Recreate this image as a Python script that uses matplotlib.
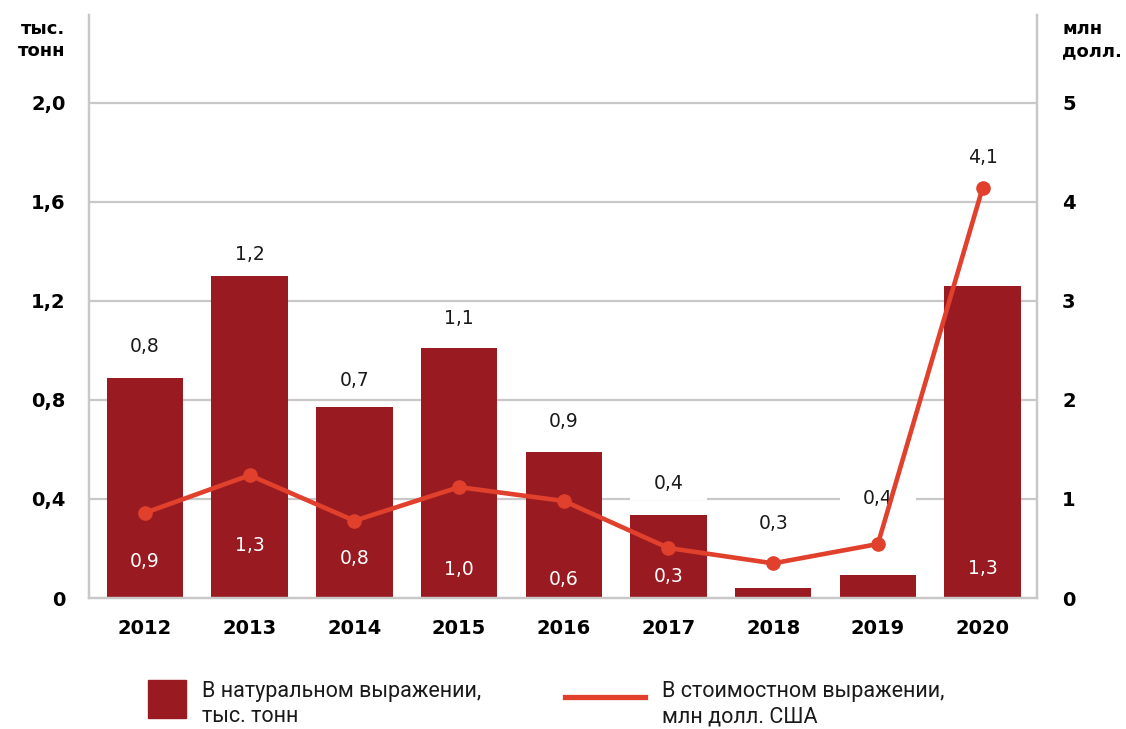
import matplotlib
matplotlib.use("Agg")
import matplotlib.pyplot as plt
from matplotlib.patches import Rectangle
from matplotlib.lines import Line2D
import numpy as np

# ---------------- data ----------------
years = ["2012", "2013", "2014", "2015", "2016", "2017", "2018", "2019", "2020"]
volume_kt = [0.89, 1.30, 0.77, 1.01, 0.59, 0.335, 0.042, 0.093, 1.26]      # тыс. тонн (left axis)
value_musd = [0.86, 1.24, 0.78, 1.12, 0.98, 0.505, 0.35, 0.545, 4.14]      # млн долл. (right axis)
volume_labels = ["0,9", "1,3", "0,8", "1,0", "0,6", "0,3", "", "", "1,3"]
value_labels = ["0,8", "1,2", "0,7", "1,1", "0,9", "0,4", "0,3", "0,4", "4,1"]
left_ticks = [0, 0.4, 0.8, 1.2, 1.6, 2.0]
left_ticklabels = ["0", "0,4", "0,8", "1,2", "1,6", "2,0"]
right_ticks = [0, 1, 2, 3, 4, 5]
right_ticklabels = ["0", "1", "2", "3", "4", "5"]
legend_bar = "В натуральном выражении,\nтыс. тонн"
legend_line = "В стоимостном выражении,\nмлн долл. США"

# ---------------- layout (label heights in left-axis units) ----------------
top_label_pos = [1.014, 1.386, 0.877, 1.131, 0.711, 0.461, 0.299, 0.400, 1.778]
inner_label_pos = [0.149, 0.214, 0.158, 0.117, 0.073, 0.085, None, None, 0.121]

BAR = "#991b21"
LINE = "#e0402c"
GRID = "#c8c8c8"
FONT = "DejaVu Sans"

W, H = 1126, 729
fig = plt.figure(figsize=(W / 100, H / 100), dpi=100)
plt.rcParams["font.family"] = [FONT]

ax = fig.add_axes([89 / W, 1 - 598 / H, (1037 - 89) / W, (598 - 15) / H])
ax2 = ax.twinx()

x = np.arange(len(years))
bw = 0.73
ax.set_xlim(-0.535, len(years) - 1 + 0.52)
ax.set_ylim(0, 2.355)
ax2.set_ylim(0, 2.355 * 2.5)

# grid lines
for t in left_ticks[1:]:
    ax.axhline(t, color=GRID, lw=1.6, zorder=0)

ax.bar(x, volume_kt, width=bw, color=BAR, zorder=2)

# white boxes behind top labels (bar-wide), then labels
px_per_unit = (598 - 15) / 2.355
for xi, yl, lab in zip(x, top_label_pos, value_labels):
    lo = yl - 16 / px_per_unit
    hi = yl + 15 / px_per_unit
    ax.bar(xi, hi - lo, bottom=lo, width=bw, color="white", linewidth=0, zorder=1.5)
    ax.text(xi, yl, lab, ha="center", va="center", fontsize=13.5, color="#1a1a1a", zorder=3)

for xi, yl, lab in zip(x, inner_label_pos, volume_labels):
    if yl is not None and lab:
        ax.text(xi, yl, lab, ha="center", va="center", fontsize=13.5, color="white", zorder=3)

ax2.plot(x, value_musd, color=LINE, lw=3.3, marker="o", ms=9.5, zorder=5)

# axes styling
for a in (ax, ax2):
    for s in a.spines.values():
        s.set_color(GRID)
        s.set_linewidth(1.6)
    a.spines["top"].set_visible(False)
    a.tick_params(length=0)

ax.set_yticks(left_ticks)
ax.set_yticklabels(left_ticklabels, fontsize=14, fontweight="bold")
ax.tick_params(axis="y", pad=17)
ax2.set_yticks(right_ticks)
ax2.set_yticklabels(right_ticklabels, fontsize=14, fontweight="bold")
ax2.tick_params(axis="y", pad=18)
ax.set_xticks(x)
ax.set_xticklabels(years, fontsize=14, fontweight="bold")
ax.tick_params(axis="x", pad=15)

# unit labels
fig.text(65 / W, 1 - 40 / H, "тыс.\nтонн", ha="right", va="center", fontsize=13,
         fontweight="bold", linespacing=1.35)
fig.text(1062 / W, 1 - 40 / H, "млн\nдолл.", ha="left", va="center", fontsize=13,
         fontweight="bold", linespacing=1.35)

# legend (manual)
fig.patches.append(Rectangle((148 / W, 1 - 718 / H), 38 / W, 38 / H,
                             transform=fig.transFigure, color=BAR))
fig.text(202 / W, 1 - 704 / H, legend_bar, ha="left", va="center", fontsize=15.5,
         color="#1a1a1a", linespacing=1.3, family="Roboto")
fig.lines.append(Line2D([565 / W, 645 / W], [1 - 697 / H, 1 - 697 / H],
                        transform=fig.transFigure, color=LINE, lw=3.8))
fig.text(662 / W, 1 - 704 / H, legend_line, ha="left", va="center", fontsize=15.5,
         color="#1a1a1a", linespacing=1.3, family="Roboto")

fig.savefig("out.png", dpi=100)
